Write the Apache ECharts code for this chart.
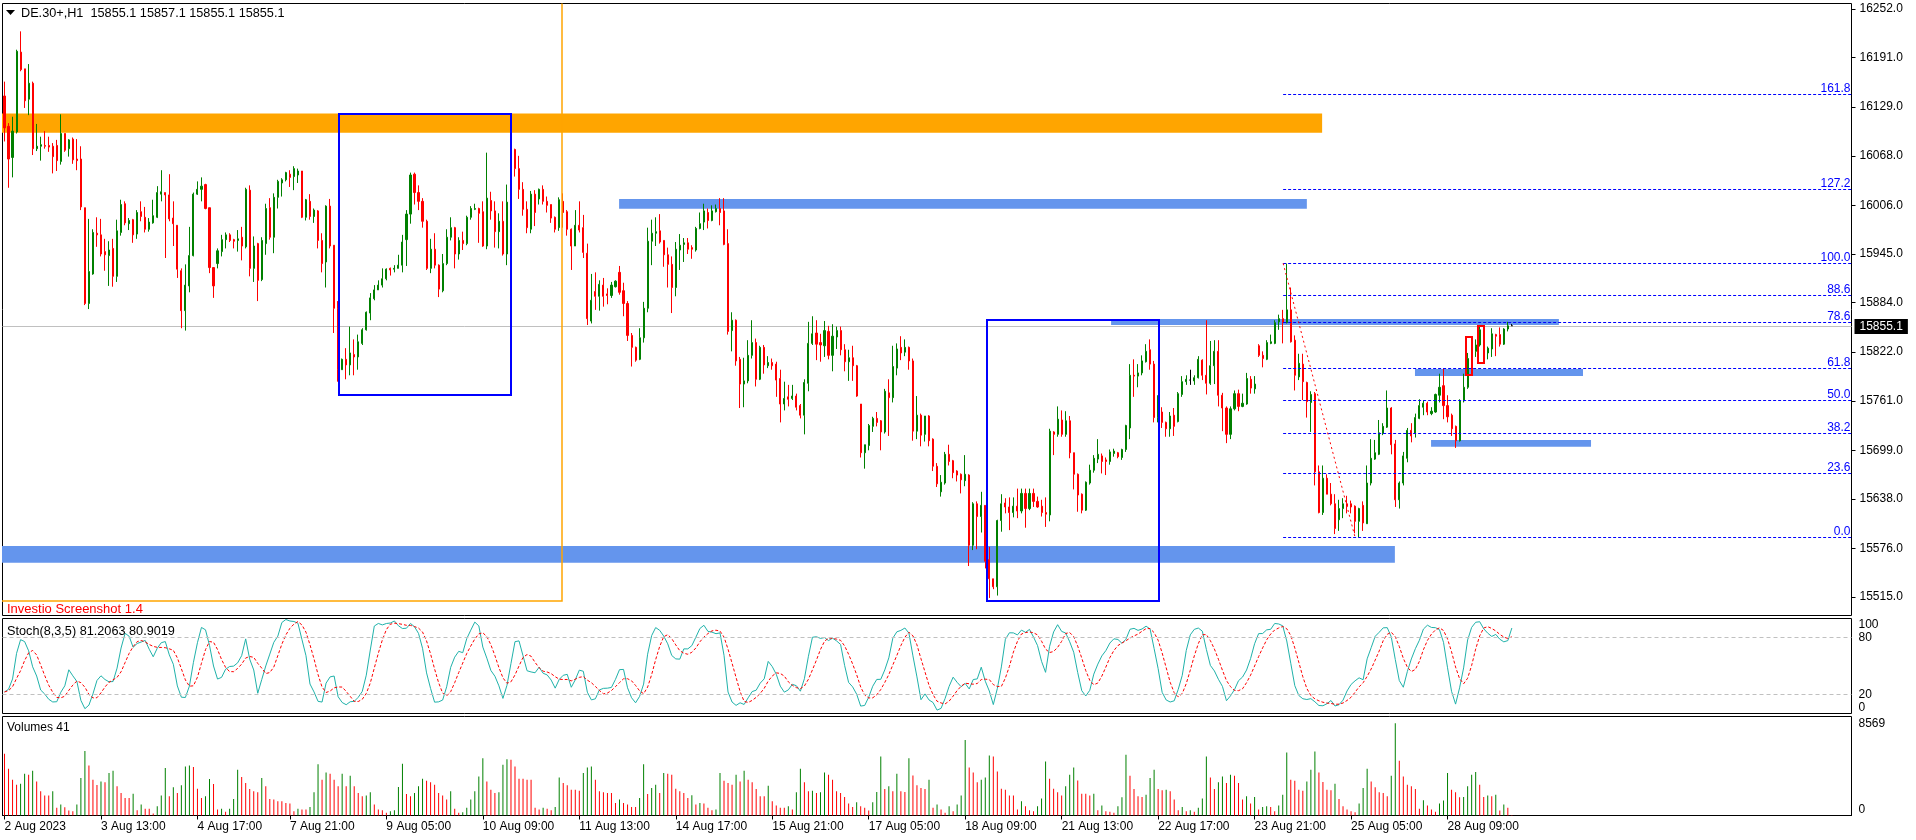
<!DOCTYPE html>
<html><head><meta charset="utf-8">
<script src="https://cdn.jsdelivr.net/npm/echarts@6/dist/echarts.min.js"></script>
<style>html,body{margin:0;padding:0;background:#fff;overflow:hidden}#c{width:1916px;height:840px}</style>
</head><body><div id="c"></div>
<script>
// ---------------- DATA ----------------
const symbolName = 'DE.30+';
const timeframe = 'H1';
const open = [
16143,16105,16066,16098,16198,16177,16139,16159,16077,16080,
16081,16081,16080,16081,16061,16096,16077,16089,16064,16064,
16003,15883,15920,15971,15969,15948,15943,15952,15917,15972,
16008,15983,15988,15970,15998,15991,15976,15984,15991,16020,
16022,16019,15990,15981,15924,15874,15905,15943,16020,16026,
16032,16003,15928,15933,15948,15963,15969,15963,15962,15966,
15954,16025,15927,15958,15913,15958,16003,15966,16016,16034,
16038,16045,16042,16044,16049,15991,16011,15992,15999,15962,
15935,16005,15956,15877,15800,15813,15806,15819,15816,15833,
15850,15871,15889,15900,15906,15914,15927,15926,15927,15931,
15963,15995,16045,16022,16011,15986,15927,15951,15931,15899,
15933,15966,15978,15945,15962,15958,15991,16001,16002,15998,
15955,16012,15999,15973,15986,15945,16010,16076,16052,16026,
16001,15976,16020,16014,16026,16011,16007,15991,15978,16011,
15998,15976,15955,15981,15978,15946,15861,15898,15892,15906,
15895,15893,15904,15922,15899,15883,15843,15828,15813,15840,
15877,15961,15971,15974,15962,15944,15932,15903,15950,15957,
15959,15953,15950,15977,15985,15997,15987,15998,16002,15999,
15958,15849,15862,15813,15782,15786,15818,15834,15788,15828,
15805,15809,15807,15789,15757,15766,15764,15767,15755,15743,
15783,15833,15846,15834,15830,15848,15818,15841,15849,15825,
15810,15815,15805,15757,15696,15705,15729,15739,15736,15722,
15771,15765,15802,15828,15822,15828,15811,15723,15743,15719,
15742,15713,15679,15647,15658,15694,15686,15673,15669,15661,
15668,15580,15632,15616,15630,15562,15538,15528,15611,15633,
15628,15621,15629,15623,15645,15626,15645,15635,15629,15621,
15618,15722,15719,15737,15719,15736,15696,15669,15644,15624,
15658,15674,15688,15692,15687,15685,15695,15696,15690,15700,
15727,15793,15792,15796,15810,15825,15807,15740,15747,15734,
15726,15743,15735,15769,15785,15787,15786,15790,15812,15793,
15783,15805,15823,15768,15752,15719,15751,15770,15754,15757,
15788,15776,15830,15818,15813,15833,15833,15860,15864,15859,
15875,15837,15791,15807,15784,15759,15770,15672,15621,15664,
15644,15632,15612,15626,15632,15632,15629,15610,15630,15607,
15658,15688,15694,15720,15728,15752,15707,15637,15658,15689,
15724,15720,15739,15753,15758,15745,15747,15768,15780,15755,
15743,15729,15711,15761,15778,15814,15823,15831,15850,15821,
15826,15844,15844,15832,15851,15855.1];
const high = [
16161,16109,16117,16201,16224,16177,16183,16161,16108,16092,
16099,16092,16084,16088,16120,16096,16089,16091,16089,16080,
16003,15989,15976,15991,15989,15964,15961,15964,15988,16013,
16011,15990,15989,16000,16011,16004,15990,16013,16030,16050,
16022,16045,16011,15981,15927,15932,15979,16022,16036,16041,
16033,16003,15928,15952,15969,15972,15971,15964,15975,15979,
16028,16031,15967,15959,15966,16008,16015,16021,16038,16040,
16048,16050,16055,16052,16049,16014,16020,16002,16000,15971,
16006,16014,15956,15886,15814,15827,15854,15838,15844,15852,
15873,15896,15906,15912,15927,15927,15928,15931,15944,15969,
16000,16047,16047,16031,16015,15988,15964,15971,15932,15945,
15976,15991,15979,15966,15973,15993,16005,16008,16003,16011,
16072,16023,16011,15996,16011,16032,16088,16077,16068,16035,
16011,16024,16025,16027,16031,16017,16007,15992,16016,16021,
16000,15977,16000,16011,15994,15958,15920,15922,15912,15915,
15902,15910,15912,15930,15909,15886,15846,15829,15852,15885,
15978,15988,15991,15995,15962,15953,15942,15960,15970,15965,
15965,15956,15979,15997,16008,16002,16006,16007,16015,16015,
15976,15872,15863,15816,15815,15837,15862,15839,15830,15831,
15817,15814,15810,15800,15785,15781,15781,15770,15757,15788,
15860,15867,15862,15845,15861,15855,15857,15854,15854,15832,
15825,15830,15806,15757,15706,15732,15741,15747,15737,15776,
15788,15830,15833,15842,15838,15829,15814,15767,15745,15742,
15743,15714,15683,15668,15697,15706,15687,15674,15670,15693,
15669,15634,15635,15647,15630,15578,15538,15612,15644,15639,
15640,15640,15651,15651,15651,15651,15651,15641,15637,15640,
15726,15723,15754,15749,15748,15742,15696,15670,15645,15660,
15681,15693,15713,15695,15690,15700,15701,15697,15701,15731,
15807,15813,15807,15818,15832,15838,15811,15768,15753,15735,
15747,15752,15772,15792,15793,15800,15793,15817,15813,15862,
15836,15837,15837,15771,15754,15754,15774,15775,15770,15796,
15792,15792,15832,15823,15837,15844,15862,15869,15875,15933,
15903,15843,15820,15820,15785,15773,15772,15680,15680,15669,
15658,15644,15637,15639,15642,15636,15630,15627,15635,15680,
15713,15712,15737,15733,15774,15753,15712,15660,15697,15727,
15733,15745,15763,15762,15760,15753,15770,15795,15802,15768,
15745,15730,15763,15795,15821,15825,15838,15856,15856,15829,
15852,15845,15853,15852,15860,15857.1];
const low = [
16086,16028,16041,16096,16174,16128,16119,16069,16074,16062,
16077,16073,16046,16049,16057,16073,16067,16058,16050,16000,
15881,15876,15919,15954,15942,15924,15905,15904,15910,15968,
15981,15975,15959,15964,15986,15972,15973,15983,15990,16011,
15940,15986,15955,15915,15852,15849,15897,15942,16019,16011,
16001,15921,15890,15927,15942,15952,15960,15952,15948,15937,
15952,15917,15910,15886,15911,15944,15963,15946,16002,16017,
16036,16029,16025,16034,15990,15987,15988,15984,15952,15922,
15903,15952,15846,15785,15800,15788,15793,15793,15800,15831,
15849,15862,15887,15900,15903,15912,15918,15922,15927,15922,
15930,15983,16007,16000,15978,15925,15921,15927,15891,15897,
15931,15962,15927,15938,15950,15956,15988,16000,15959,15954,
15951,15988,15953,15952,15943,15931,16009,16042,16014,15993,
15971,15971,15980,16007,16007,15997,15984,15972,15974,15978,
15968,15925,15955,15972,15940,15856,15858,15875,15874,15879,
15882,15890,15903,15894,15867,15836,15804,15810,15812,15834,
15872,15931,15955,15958,15929,15903,15871,15892,15925,15935,
15945,15939,15948,15976,15975,15977,15986,15997,15981,15956,
15844,15823,15805,15752,15753,15783,15814,15779,15787,15795,
15802,15800,15766,15734,15749,15754,15762,15749,15739,15719,
15773,15831,15812,15810,15816,15813,15798,15826,15818,15798,
15786,15786,15766,15690,15676,15699,15722,15729,15699,15720,
15717,15759,15793,15812,15817,15800,15711,15713,15704,15710,
15704,15673,15653,15641,15656,15680,15664,15660,15645,15654,
15554,15574,15575,15596,15551,15514,15525,15517,15597,15620,
15599,15615,15614,15620,15602,15624,15628,15627,15616,15603,
15610,15693,15716,15716,15716,15689,15650,15622,15620,15623,
15656,15671,15683,15670,15668,15681,15691,15689,15687,15697,
15713,15766,15778,15793,15809,15800,15734,15734,15727,15716,
15716,15717,15734,15766,15781,15781,15781,15789,15787,15769,
15781,15782,15754,15723,15708,15713,15749,15748,15753,15756,
15770,15770,15816,15803,15812,15832,15832,15850,15833,15858,
15834,15774,15787,15762,15740,15722,15655,15620,15618,15644,
15630,15594,15598,15614,15620,15620,15595,15590,15598,15607,
15655,15687,15693,15718,15727,15694,15628,15626,15655,15684,
15709,15715,15738,15743,15743,15743,15746,15759,15738,15734,
15717,15702,15710,15759,15776,15808,15816,15829,15809,15813,
15816,15817,15829,15831,15848,15855.1];
const close = [
16103,16064,16099,16199,16176,16137,16159,16077,16080,16082,
16080,16079,16067,16062,16096,16075,16088,16063,16062,16004,
15883,15923,15972,15969,15945,15944,15950,15917,15974,16007,
15984,15987,15969,15997,15992,15976,15985,15993,16022,16023,
16019,15989,15983,15926,15874,15906,15943,16020,16026,16030,
16002,15928,15905,15949,15963,15969,15962,15961,15964,15955,
16026,15927,15955,15912,15962,16002,15966,16016,16036,16038,
16047,16041,16052,16049,15991,16013,15992,16000,15962,15933,
16005,15955,15877,15800,15813,15806,15821,15816,15835,15850,
15872,15890,15900,15906,15914,15926,15925,15927,15931,15960,
15995,16044,16022,16011,15986,15927,15951,15931,15901,15933,
15966,15978,15945,15962,15958,15991,16002,16002,15996,15955,
16015,15999,15973,15986,15945,16010,16075,16052,16026,16001,
15978,16020,15997,16026,16011,16006,15990,15976,16013,15997,
15976,15955,15981,15975,15947,15864,15887,15892,15907,15892,
15893,15906,15911,15897,15883,15843,15828,15812,15840,15877,
15961,15971,15973,15960,15944,15932,15903,15951,15956,15959,
15951,15951,15977,15983,15999,15987,15999,16002,15997,15957,
15848,15862,15811,15782,15786,15818,15834,15788,15828,15806,
15809,15805,15787,15757,15764,15763,15767,15753,15743,15784,
15833,15845,15832,15831,15849,15818,15842,15849,15825,15810,
15815,15805,15767,15696,15706,15730,15739,15734,15722,15773,
15765,15804,15826,15821,15828,15811,15723,15743,15718,15742,
15711,15679,15657,15659,15694,15685,15671,15668,15662,15669,
15580,15632,15616,15630,15560,15538,15528,15611,15632,15628,
15621,15629,15623,15645,15626,15645,15635,15628,15621,15619,
15723,15719,15738,15719,15736,15696,15669,15643,15624,15659,
15674,15689,15694,15685,15685,15697,15698,15691,15700,15730,
15793,15792,15796,15811,15823,15807,15740,15747,15734,15726,
15742,15729,15770,15785,15788,15787,15790,15813,15793,15783,
15805,15823,15768,15752,15719,15751,15770,15754,15758,15789,
15777,15782,15818,15814,15834,15835,15859,15864,15859,15875,
15835,15793,15808,15785,15760,15769,15672,15621,15664,15644,
15632,15601,15626,15632,15629,15628,15610,15626,15608,15658,
15689,15696,15721,15729,15752,15706,15637,15658,15692,15724,
15717,15740,15755,15758,15747,15748,15769,15778,15755,15741,
15726,15711,15761,15778,15814,15824,15831,15850,15821,15827,
15845,15842,15832,15851,15855,15855.1];
const volume = [
5729,4343,3325,2866,2956,3880,3788,4158,3171,2248,
1848,1848,2248,709,1016,770,462,400,1016,3479,
6006,4651,3325,2833,3171,3079,3942,4158,2710,2094,
1632,1632,2032,493,1016,616,616,185,862,1848,
4404,1786,2618,2094,2802,4558,4651,4496,2494,1632,
1786,3387,2926,554,616,339,616,1540,4250,3572,
3018,2464,2248,2156,3479,2710,1540,1478,1324,1324,
1170,1108,400,616,554,554,801,2156,4774,3325,
4004,3880,3325,2710,3880,2710,3696,2710,2094,1786,
1848,2156,1016,554,493,246,400,493,2648,4804,
2002,1786,2094,2710,3418,3233,3079,2864,2094,1848,
1478,2248,616,246,308,709,1478,2248,3633,5328,
3171,2402,2094,2156,4712,5235,5174,4558,3418,3418,
3325,3325,709,554,709,616,493,801,3541,3018,
2802,2402,2402,2310,3942,4466,4558,3325,2248,2156,
2094,2094,1170,1478,1170,1016,801,801,1632,4774,
2002,2556,2864,2094,3942,3880,3788,2494,2248,2094,
1632,1878,1016,1170,1108,709,493,554,3942,3233,
3018,2864,3788,3171,4158,3325,3079,2464,1786,1786,
2772,1324,924,709,709,862,554,2156,4343,3079,
2248,2310,2094,2156,4004,3788,3325,2248,2094,1724,
1108,801,1232,862,709,462,1232,2186,5482,2464,
2710,2248,3880,2248,2186,5328,3726,2802,2556,2464,
3325,709,1016,554,246,862,
400,1016,1848,7022,4466,4004,3079,3325,3541,5574,
5482,4096,2494,2402,1848,1848,554,1324,862,493,
400,862,1570,5020,3418,2494,2156,1848,2710,3788,
4466,3264,2032,2032,1848,2032,493,924,400,339,
246,862,1694,5636,3696,2464,1786,1724,1940,3479,
4250,2464,2340,2402,2248,1478,493,801,400,493,
339,709,1570,5482,3541,2464,3079,3633,3018,3788,
3696,3018,1478,1786,1108,1724,554,801,862,801,
400,924,1940,5852,3325,3233,2402,2310,3171,4250,
5944,4004,3110,2402,2340,2956,1540,862,554,400,
308,1108,2556,4343,3171,2618,2156,2094,1786,3696,
8569,5081,3633,2864,2710,2464,616,1417,924,554,
339,1108,1386,3942,2402,2156,1694,1724,2710,3788,
4035,2864,1724,1848,1786,1940,462,1016,709,41];
const xTickBars = [0,24,48,71,95,119,143,167,191,215,239,263,287,311,335,359];
const xTickLabels = ['2 Aug 2023','3 Aug 13:00','4 Aug 17:00','7 Aug 21:00','9 Aug 05:00','10 Aug 09:00','11 Aug 13:00','14 Aug 17:00','15 Aug 21:00','17 Aug 05:00','18 Aug 09:00','21 Aug 13:00','22 Aug 17:00','23 Aug 21:00','25 Aug 05:00','28 Aug 09:00'];
const priceTicks = [15515,15576,15638,15699,15761,15822,15884,15945,16006,16068,16129,16191,16252];
const stochMidTicks = [20,80];
const stochTopTick = [100];
const stochBottomTick = [0];
const stochParams = [8,3,5];
const stochTitle = 'Stoch(8,3,5) 81.2063 80.9019';
const watermark = 'Investio Screenshot 1.4';
const bidPrice = 15855.1;
// Fibonacci retracement (bar index, price)
const fibLevels = [0,23.6,38.2,50,61.8,78.6,88.6,100,127.2,161.8];
const fibLow = 15590, fibHigh = 15933.3, fibStartBar = 318.1;
const fibTrendBars = [318.1, 336.0];
const fibTrendPrices = [15933.3, 15590];
// filled zones: [barFrom, priceLow, barTo, priceHigh]
const zoneBoxes = [
  [-3,16097,327.8,16121],
  [152.9,16001.7,324.0,16014],
  [-3,15558,345.9,15579],
  [275.3,15856,386.7,15863.5],
  [350.9,15792,392.7,15801],
  [354.9,15703.5,394.7,15712]];
const zoneKinds = ['orange','blue','blue','blue','blue','blue'];
// outlined rectangles: [barFrom, priceLow, barTo, priceHigh]
const frameBoxes = [
  [-3,15510.8,138.8,16330],
  [83.2,15768.3,125.9,16120.4],
  [244.4,15510.5,287.2,15862.3],
  [363.6,15793.4,365.0,15840.6],
  [366.6,15808.8,368.1,15855.2]];
const frameKinds = ['orange','blue','blue','red','red'];

// ---------------- LAYOUT / STYLE ----------------
const FONT = '"Liberation Sans", Arial, sans-serif';
const F12 = '12px ' + FONT;
const F12W = '12.7px ' + FONT;
const F13 = '13px ' + FONT;
const NCAT = 460;
const GL = 2.5, GW = 1849;
const priceMin = 15492.0, priceMax = 16258.9;
const UP = '#008000', DOWN = '#FF0000';
const zoneColors = {orange:'#FFA500', blue:'#6495ED'};
const frameStyles = {orange:{stroke:'#FFA500', lineWidth:1.5}, blue:{stroke:'#0000FF', lineWidth:2}, red:{stroke:'#FF0000', lineWidth:2}};

const categories = Array.from({length: NCAT}, (_, i) => String(i));
const tickMap = {};
xTickBars.forEach((b, i) => { tickMap[b] = xTickLabels[i]; });
const isTick = (idx) => tickMap[idx] !== undefined;

const ohlc = open.map((o, i) => [o, close[i], low[i], high[i]]);

// Stochastic oscillator computed from the candles (MT4 definition)
function stochastic(kP, slow, dP) {
  const n = close.length, num = [], den = [], K = [], D = [];
  for (let i = 0; i < n; i++) {
    let hh = -Infinity, ll = Infinity;
    for (let j = Math.max(0, i - kP + 1); j <= i; j++) { hh = Math.max(hh, high[j]); ll = Math.min(ll, low[j]); }
    num.push(close[i] - ll); den.push(hh - ll);
  }
  for (let i = 0; i < n; i++) {
    let a = 0, b = 0;
    for (let j = Math.max(0, i - slow + 1); j <= i; j++) { a += num[j]; b += den[j]; }
    K.push(b === 0 ? 100 : 100 * a / b);
  }
  for (let i = 0; i < n; i++) {
    let s = 0, c = 0;
    for (let j = Math.max(0, i - dP + 1); j <= i; j++) { s += K[j]; c++; }
    D.push(s / c);
  }
  return {K, D};
}
const st = stochastic(stochParams[0], stochParams[1], stochParams[2]);

const volMax = Math.max(...volume);
const volAxisMax = volMax * 99 / 92.2;
const volData = volume.map((v, i) => ({value: v, itemStyle: {color: (i > 0 && v > volume[i - 1]) ? UP : DOWN}}));

const last = open.length - 1;
const headerText = symbolName + ',' + timeframe + '  ' + [open[last], high[last], low[last], close[last]].map(v => v.toFixed(1)).join(' ');

function gridCfg(top, height) {
  return {left: GL, top: top, width: GW, height: height, show: true, borderColor: '#000', borderWidth: 1,
          backgroundColor: 'transparent', containLabel: false, outerBoundsMode: 'none'};
}
const hiddenCat = (gi) => ({type: 'category', gridIndex: gi, data: categories, boundaryGap: true, show: false,
                            axisLine: {show: false, onZero: false}});
const yBase = (gi, min, max, vals, va, margin) => ({
  type: 'value', gridIndex: gi, position: 'right', min: min, max: max,
  axisLine: {show: false, onZero: false}, splitLine: {show: false}, axisTick: {show: false},
  axisLabel: {show: true, customValues: vals, margin: margin, color: '#000', fontFamily: FONT, fontSize: 12,
              verticalAlign: va, formatter: (v) => String(Math.round(v))}
});

const chart = echarts.init(document.getElementById('c'), null, {renderer: 'canvas', width: 1916, height: 840});
chart.setOption({
  animation: false,
  backgroundColor: '#fff',
  textStyle: {fontFamily: FONT},
  grid: [gridCfg(3.5, 612), gridCfg(618.5, 95), gridCfg(716.5, 99)],
  xAxis: [
    hiddenCat(0),
    {type: 'value', gridIndex: 0, min: -0.5, max: NCAT - 0.5, show: false, axisLine: {show: false, onZero: false}},
    hiddenCat(1),
    {type: 'category', gridIndex: 2, data: categories, boundaryGap: true,
     axisLine: {show: true, onZero: false, lineStyle: {color: '#000', width: 1}},
     axisTick: {show: true, alignWithLabel: true, interval: isTick, length: 4, lineStyle: {color: '#000'}},
     axisLabel: {show: true, interval: isTick, formatter: (v, i) => tickMap[i] || '', align: 'left',
                 margin: 5, color: '#000', fontFamily: FONT, fontSize: 12, hideOverlap: false},
     splitLine: {show: false}}
  ],
  yAxis: [
    {type: 'value', gridIndex: 0, position: 'right', min: priceMin, max: priceMax,
     axisLine: {show: false, onZero: false}, splitLine: {show: false},
     axisTick: {show: true, customValues: priceTicks, length: 4, lineStyle: {color: '#000'}},
     axisLabel: {show: true, customValues: priceTicks, formatter: (v) => v.toFixed(1), margin: 8,
                 color: '#000', fontFamily: FONT, fontSize: 12}},
    yBase(1, 0, 100, stochMidTicks, 'middle', 7),
    yBase(1, 0, 100, stochTopTick, 'top', 7),
    yBase(1, 0, 100, stochBottomTick, 'bottom', 7),
    yBase(2, 0, volAxisMax, [volMax], 'middle', 7),
    yBase(2, 0, volAxisMax, [0], 'bottom', 7)
  ],
  graphic: [
    {type: 'polygon', shape: {points: [[6, 10], [15, 10], [10.5, 15]]}, style: {fill: '#000'}, z: 100},
    {type: 'text', x: 21, y: 13, style: {text: headerText, font: F12W, fill: '#000', verticalAlign: 'middle'}, z: 100},
    {type: 'text', x: 7, y: 609, style: {text: watermark, font: F13, fill: '#FF0000', verticalAlign: 'middle'}, z: 100},
    {type: 'text', x: 7, y: 631, style: {text: stochTitle, font: F12W, fill: '#000', verticalAlign: 'middle'}, z: 100},
    {type: 'text', x: 7, y: 728, style: {text: 'Volumes ' + volume[last], font: F12, fill: '#000', verticalAlign: 'middle'}, z: 100}
  ],
  series: [
    {type: 'custom', name: 'zones', xAxisIndex: 1, yAxisIndex: 0, clip: true, silent: true, z: 1,
     encode: {x: [0, 2], y: [1, 3]}, data: zoneBoxes,
     renderItem: (params, api) => {
       const a = api.coord([api.value(0), api.value(1)]);
       const b = api.coord([api.value(2), api.value(3)]);
       return {type: 'rect', shape: {x: Math.min(a[0], b[0]), y: Math.min(a[1], b[1]),
               width: Math.abs(b[0] - a[0]), height: Math.abs(b[1] - a[1])},
               style: {fill: zoneColors[zoneKinds[params.dataIndex]], stroke: null}};
     }},
    {type: 'custom', name: 'bid', xAxisIndex: 1, yAxisIndex: 0, clip: false, silent: true, z: 2,
     encode: {x: 0, y: 1}, data: [[NCAT - 0.5, bidPrice]],
     renderItem: (params, api) => {
       const a = api.coord([-0.5, api.value(1)]);
       const b = api.coord([NCAT - 0.5, api.value(1)]);
       const y = Math.round(a[1]) + 0.5;
       return {type: 'group', children: [
         {type: 'line', shape: {x1: a[0], y1: y, x2: b[0], y2: y}, style: {stroke: '#C0C0C0', lineWidth: 1}},
         {type: 'text', x: b[0] + 3, y: y, style: {text: api.value(1).toFixed(1), fill: '#fff', backgroundColor: '#000',
           padding: [2, 5, 1, 5], font: F12, align: 'left', verticalAlign: 'middle'}}
       ]};
     }},
    {type: 'candlestick', name: 'price', xAxisIndex: 0, yAxisIndex: 0, z: 3, barWidth: 1.6, data: ohlc,
     itemStyle: {color: UP, color0: DOWN, borderColor: UP, borderColor0: DOWN, borderColorDoji: '#000', borderWidth: 1}},
    {type: 'custom', name: 'frames', xAxisIndex: 1, yAxisIndex: 0, clip: true, silent: true, z: 4,
     encode: {x: [0, 2], y: [1, 3]}, data: frameBoxes,
     renderItem: (params, api) => {
       const a = api.coord([api.value(0), api.value(1)]);
       const b = api.coord([api.value(2), api.value(3)]);
       const s = frameStyles[frameKinds[params.dataIndex]];
       return {type: 'rect', shape: {x: Math.round(Math.min(a[0], b[0])), y: Math.round(Math.min(a[1], b[1])),
               width: Math.round(Math.abs(b[0] - a[0])), height: Math.round(Math.abs(b[1] - a[1]))},
               style: {fill: 'none', stroke: s.stroke, lineWidth: s.lineWidth}};
     }},
    {type: 'custom', name: 'fib', xAxisIndex: 1, yAxisIndex: 0, clip: true, silent: true, z: 4,
     encode: {x: 0, y: 1}, data: fibLevels.map(r => [fibStartBar, fibLow + r / 100 * (fibHigh - fibLow)]),
     renderItem: (params, api) => {
       const a = api.coord([api.value(0), api.value(1)]);
       const b = api.coord([NCAT - 0.5, api.value(1)]);
       const y = Math.round(a[1]) + 0.5;
       return {type: 'group', children: [
         {type: 'line', shape: {x1: a[0], y1: y, x2: b[0], y2: y}, style: {stroke: '#0000FF', lineWidth: 1, lineDash: [3, 2]}},
         {type: 'text', x: b[0] - 1, y: y, style: {text: fibLevels[params.dataIndex].toFixed(1), fill: '#0000FF',
           font: F12, align: 'right', verticalAlign: 'bottom'}}
       ]};
     }},
    {type: 'line', name: 'fibTrend', xAxisIndex: 1, yAxisIndex: 0, z: 4, silent: true, symbol: 'none',
     data: fibTrendBars.map((b, i) => [b, fibTrendPrices[i]]),
     lineStyle: {color: '#FF0000', width: 1, type: [2, 3]}},
    {type: 'line', name: 'K', xAxisIndex: 2, yAxisIndex: 1, symbol: 'none', silent: true, data: st.K,
     lineStyle: {color: '#20B2AA', width: 1}, z: 3,
     markLine: {silent: true, symbol: ['none', 'none'], label: {show: false},
                lineStyle: {color: '#C0C0C0', width: 1, type: [4, 3]},
                data: stochMidTicks.map(v => ({yAxis: v}))}},
    {type: 'line', name: 'D', xAxisIndex: 2, yAxisIndex: 1, symbol: 'none', silent: true, data: st.D,
     lineStyle: {color: '#FF0000', width: 1, type: [3, 2]}, z: 4},
    {type: 'bar', name: 'Volumes', xAxisIndex: 3, yAxisIndex: 4, barWidth: 1, silent: true, data: volData}
  ]
});
</script>
</body></html>
